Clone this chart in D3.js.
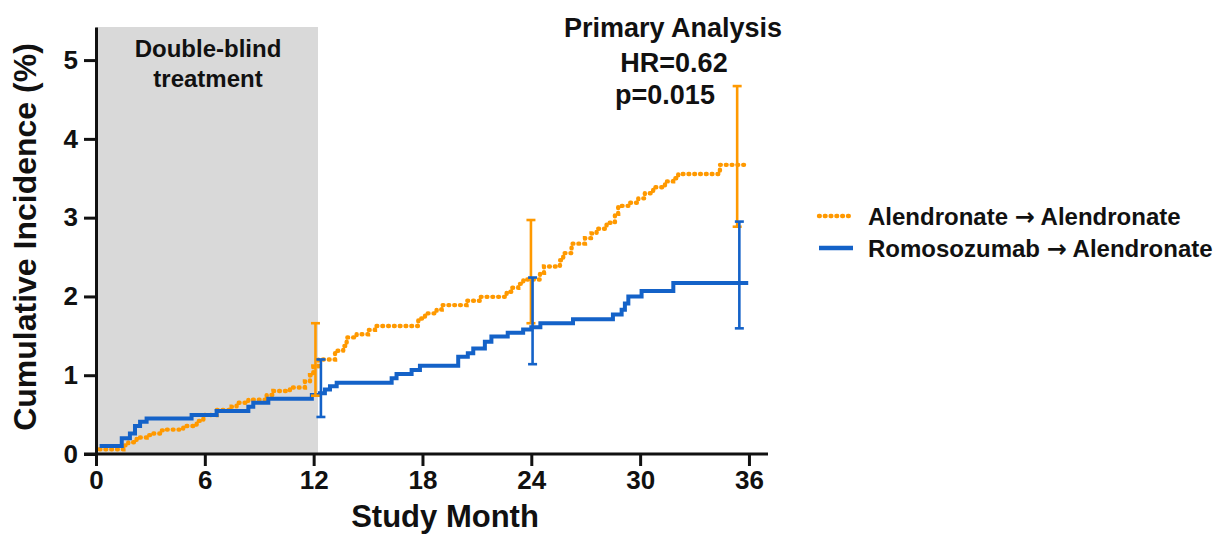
<!DOCTYPE html>
<html>
<head>
<meta charset="utf-8">
<script src="https://cdn.jsdelivr.net/npm/d3@7"></script>
<style>
  body { margin: 0; background: #fff; }
  svg text { font-family: "Liberation Sans", Arial, sans-serif; font-weight: bold; fill: #111; }
</style>
</head>
<body>
<svg width="1227" height="535"></svg>
<script>
// tick labels
const monthTicks = [0, 6, 12, 18, 24, 30, 36];
const incidenceTicks = [0, 1, 2, 3, 4, 5];

// step points [month, cumulative incidence %]
const alendronate = [
    [0.2, 0.06], [1.51, 0.11], [1.78, 0.15], [2.24, 0.21], [2.79, 0.24], [3.07, 0.26],
    [3.62, 0.30], [3.9, 0.31], [4.81, 0.355], [5.55, 0.42], [5.92, 0.495], [6.65, 0.56],
    [7.48, 0.60], [7.75, 0.65], [8.4, 0.69], [9.41, 0.75], [9.78, 0.80], [10.69, 0.845],
    [11.52, 0.92], [11.8, 1.0], [11.98, 1.11], [12.26, 1.2], [13.18, 1.31], [13.63, 1.37],
    [13.82, 1.48], [14.37, 1.52], [15.0, 1.575], [15.38, 1.625], [17.77, 1.72], [18.14, 1.785],
    [18.78, 1.835], [19.06, 1.89], [20.43, 1.945], [21.17, 1.995], [22.64, 2.06], [22.92, 2.11],
    [23.28, 2.16], [23.56, 2.215], [24.48, 2.3], [24.7, 2.38], [25.58, 2.46], [25.76, 2.55],
    [26.22, 2.67], [26.96, 2.74], [27.32, 2.8], [27.6, 2.86], [28.15, 2.935], [28.61, 3.05],
    [28.79, 3.15], [29.44, 3.19], [29.9, 3.245], [30.26, 3.31], [30.72, 3.385], [31.37, 3.46],
    [31.82, 3.5], [32.1, 3.555], [34.4, 3.67], [35.96, 3.67]
];
const romosozumab = [
    [0.2, 0.1], [1.42, 0.2], [1.87, 0.26], [2.15, 0.355], [2.43, 0.41], [2.79, 0.45],
    [5.27, 0.495], [6.65, 0.545], [8.4, 0.6], [8.67, 0.65], [9.5, 0.70], [11.9, 0.75],
    [12.35, 0.77], [12.62, 0.82], [12.9, 0.86], [13.27, 0.905], [16.3, 0.96], [16.57, 1.015],
    [17.4, 1.065], [17.86, 1.12], [19.97, 1.235], [20.5, 1.28], [20.8, 1.34], [21.44, 1.425],
    [21.8, 1.49], [22.7, 1.54], [23.55, 1.58], [24.0, 1.61], [24.5, 1.66], [26.3, 1.71],
    [28.5, 1.77], [28.98, 1.83], [29.16, 1.91], [29.35, 2.0], [30.08, 2.07], [31.83, 2.17],
    [35.96, 2.17]
];

// confidence intervals [month, lower, upper]
const alendronateCI = [[12.1, 0.74, 1.66], [23.98, 1.66, 2.97], [35.35, 2.885, 4.67]];
const romosozumabCI = [[12.4, 0.47, 1.2], [24.07, 1.14, 2.24], [35.47, 1.595, 2.95]];

const blindEnd = 12.24;
const orange = "#ff9900";
const blue = "#1462c8";

const svg = d3.select("svg");

const x = d3.scaleLinear().domain([0, 37.05]).range([96, 768]);
const y = d3.scaleLinear().domain([0, 5.42]).range([454, 27]);

// double-blind shaded period
svg.append("rect")
    .attr("x", x(0)).attr("y", y(5.42))
    .attr("width", x(blindEnd) - x(0))
    .attr("height", y(0) - y(5.42))
    .attr("fill", "#d9d9d9");

svg.append("text")
    .attr("x", 208).attr("y", 57)
    .attr("text-anchor", "middle")
    .style("font-size", "24px")
    .text("Double-blind");
svg.append("text")
    .attr("x", 208).attr("y", 87)
    .attr("text-anchor", "middle")
    .style("font-size", "24px")
    .text("treatment");

// curves
const line = d3.line()
    .x(d => x(d[0]))
    .y(d => y(d[1]))
    .curve(d3.curveStepAfter);

svg.append("path")
    .datum(alendronate)
    .attr("fill", "none")
    .attr("stroke", orange)
    .attr("stroke-width", 4.4)
    .attr("stroke-linecap", "round")
    .attr("stroke-dasharray", "0.8 5")
    .attr("d", line);

svg.append("path")
    .datum(romosozumab)
    .attr("fill", "none")
    .attr("stroke", blue)
    .attr("stroke-width", 4)
    .attr("d", line);

// error bars
function errorBars(data, color) {
    const g = svg.append("g")
        .attr("stroke", color)
        .attr("stroke-width", 2.6);
    g.selectAll(".v").data(data).enter().append("line")
        .attr("x1", d => x(d[0])).attr("x2", d => x(d[0]))
        .attr("y1", d => y(d[1])).attr("y2", d => y(d[2]));
    g.selectAll(".lo").data(data).enter().append("line")
        .attr("x1", d => x(d[0]) - 4.5).attr("x2", d => x(d[0]) + 4.5)
        .attr("y1", d => y(d[1])).attr("y2", d => y(d[1]));
    g.selectAll(".hi").data(data).enter().append("line")
        .attr("x1", d => x(d[0]) - 4.5).attr("x2", d => x(d[0]) + 4.5)
        .attr("y1", d => y(d[2])).attr("y2", d => y(d[2]));
}
errorBars(alendronateCI, orange);
errorBars(romosozumabCI, blue);

// axes
const xAxis = svg.append("g")
    .attr("transform", `translate(0,${y(0)})`)
    .call(d3.axisBottom(x).tickValues(monthTicks).tickFormat(d3.format("d"))
        .tickSize(12).tickSizeOuter(0).tickPadding(5));

const yAxis = svg.append("g")
    .attr("transform", `translate(${x(0)},0)`)
    .call(d3.axisLeft(y).tickValues(incidenceTicks).tickFormat(d3.format("d"))
        .tickSize(12).tickSizeOuter(0).tickPadding(6));

[xAxis, yAxis].forEach(a => {
    a.selectAll("path, line").attr("stroke", "#111").attr("stroke-width", 3);
    a.selectAll("text")
        .style("font-family", "'Liberation Sans', Arial, sans-serif")
        .style("font-weight", "bold")
        .style("font-size", "26px")
        .attr("fill", "#111");
});
// x axis line runs past the y axis like the original
xAxis.select(".domain").attr("d", `M${x(0) - 12},0H${x.range()[1]}`);

// axis titles
svg.append("text")
    .attr("transform", `translate(36,237) rotate(-90)`)
    .attr("text-anchor", "middle")
    .style("font-size", "32px")
    .text("Cumulative Incidence (%)");

svg.append("text")
    .attr("x", 445).attr("y", 527)
    .attr("text-anchor", "middle")
    .style("font-size", "31px")
    .text("Study Month");

// annotation
svg.append("text").attr("x", 673).attr("y", 37).attr("text-anchor", "middle")
    .style("font-size", "27px").text("Primary Analysis");
svg.append("text").attr("x", 674).attr("y", 72).attr("text-anchor", "middle")
    .style("font-size", "27px").text("HR=0.62");
svg.append("text").attr("x", 665).attr("y", 104).attr("text-anchor", "middle")
    .style("font-size", "27px").text("p=0.015");

// legend
const legendItems = [
    { from: "Alendronate", to: "Alendronate", color: orange, dash: "0.8 5", y: 216 },
    { from: "Romosozumab", to: "Alendronate", color: blue, dash: null, y: 248 }
];
const legend = svg.append("g");
legendItems.forEach(d => {
    legend.append("line")
        .attr("x1", 819).attr("x2", 853)
        .attr("y1", d.y).attr("y2", d.y)
        .attr("stroke", d.color)
        .attr("stroke-width", 4.4)
        .attr("stroke-linecap", d.dash ? "round" : "butt")
        .attr("stroke-dasharray", d.dash);
    const t = legend.append("text")
        .attr("x", 868).attr("y", d.y + 8.5)
        .style("font-size", "24px");
    t.append("tspan").text(d.from + " ");
    t.append("tspan").style("font-family", "'DejaVu Sans', sans-serif").text("\u2192");
    t.append("tspan").text(" " + d.to);
});
</script>
</body>
</html>
